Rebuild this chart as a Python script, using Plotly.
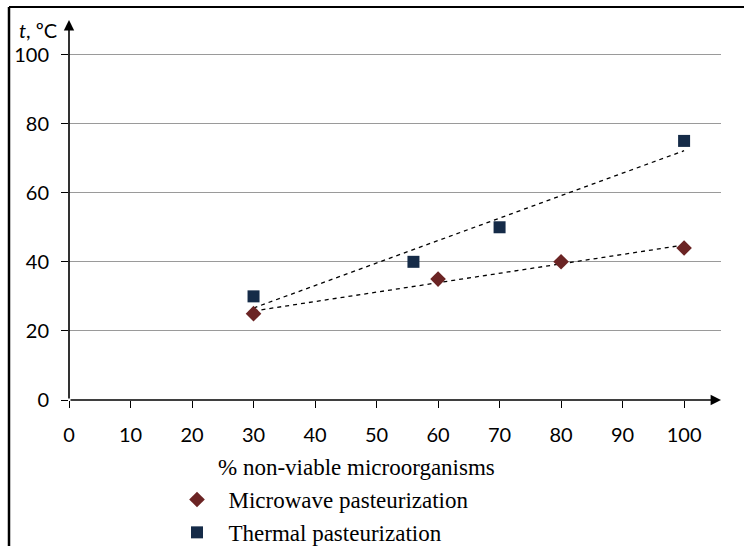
import numpy as np
import plotly.graph_objects as go

# Data
mw_x = [30, 60, 80, 100]
mw_y = [25, 35, 40, 44]
th_x = [30, 56, 70, 100]
th_y = [30, 40, 50, 75]
x_ticks = [0, 10, 20, 30, 40, 50, 60, 70, 80, 90, 100]
y_ticks = [0, 20, 40, 60, 80, 100]
mw_name = "\u00a0\u00a0Microwave pasteurization"
th_name = "\u00a0\u00a0Thermal pasteurization"
x_title = "% non-viable microorganisms"
y_title = "<i>t</i>, ºC"

XMAX, YMAX = 106, 110

fig = go.Figure()

def trend(xs, ys):
    k, b = np.polyfit(xs, ys, 1)
    xx = np.array([min(xs), max(xs)])
    return xx, k * xx + b

for xs, ys in [(th_x, th_y), (mw_x, mw_y)]:
    tx, ty = trend(xs, ys)
    fig.add_trace(go.Scatter(x=tx, y=ty, mode="lines", showlegend=False,
                             line=dict(color="black", width=1.3, dash="4px,4px"),
                             hoverinfo="skip"))

fig.add_trace(go.Scatter(x=mw_x, y=mw_y, mode="markers", name=mw_name,
                         marker=dict(symbol="diamond", size=12, color="#6B2424"),
                         legendgroup="a"))
fig.add_trace(go.Scatter(x=th_x, y=th_y, mode="markers", name=th_name,
                         marker=dict(symbol="square", size=12, color="#152B48"),
                         legendgroup="b"))

# axis arrows
fig.add_annotation(x=XMAX, y=0, ax=0, ay=0, xref="x", yref="y", axref="x", ayref="y",
                   text="", showarrow=True, arrowhead=2, arrowsize=1.3, arrowwidth=1.6,
                   arrowcolor="black")
fig.add_annotation(x=0, y=YMAX, ax=0, ay=0, xref="x", yref="y", axref="x", ayref="y",
                   text="", showarrow=True, arrowhead=2, arrowsize=1.3, arrowwidth=1.6,
                   arrowcolor="black")

pl, pw, pt, ph = 69, 652, 20, 380
fig.add_annotation(x=(17 - pl) / pw, y=(pt + ph - 16) / ph, xref="paper", yref="paper",
                   text=y_title, showarrow=False, xanchor="left", yanchor="top",
                   font=dict(family="Lato", size=20, color="black"))
# x axis title (offset left of axis centre, as in the reference)
fig.add_annotation(x=(356 - pl) / pw, y=-(467 - pt - ph) / ph, xref="paper", yref="paper",
                   text=x_title, showarrow=False, xanchor="center", yanchor="middle",
                   font=dict(family="Liberation Serif", size=23, color="black"))

# outer border (left and top)
fig.add_shape(type="line", xref="paper", yref="paper",
              x0=(9 - pl) / pw, x1=(9 - pl) / pw, y0=(pt + ph - 7) / ph, y1=(pt + ph - 560) / ph,
              line=dict(color="black", width=2.5))
fig.add_shape(type="line", xref="paper", yref="paper",
              x0=(9 - pl) / pw, x1=(760 - pl) / pw, y0=(pt + ph - 7) / ph, y1=(pt + ph - 7) / ph,
              line=dict(color="black", width=2))

fig.update_layout(
    width=744, height=546,
    margin=dict(l=pl, r=744 - pl - pw, t=pt, b=546 - pt - ph, autoexpand=False),
    plot_bgcolor="white", paper_bgcolor="white",
    font=dict(family="Lato", size=20, color="black"),
    showlegend=True,
    legend=dict(x=(177 - pl) / pw, y=-(478 - pt - ph) / ph, xanchor="left", yanchor="top",
                font=dict(family="Liberation Serif", size=23, color="black"),
                tracegroupgap=0, bgcolor="rgba(0,0,0,0)"),
    xaxis=dict(range=[0, XMAX], tickvals=x_ticks, showgrid=False, zeroline=False,
               showline=False, ticks="outside", ticklen=7, tickcolor="black",
               ticklabelstandoff=10, automargin=False),
    yaxis=dict(range=[0, YMAX], tickvals=y_ticks, showgrid=True, gridcolor="#9a9a9a",
               gridwidth=1, zeroline=False, showline=False, ticks="outside", ticklen=7,
               tickcolor="black", ticklabelstandoff=8, automargin=False),
)

fig.write_html("out.html", config={"displayModeBar": False},
               post_script="document.body.style.margin='0';document.body.style.overflow='hidden';")
